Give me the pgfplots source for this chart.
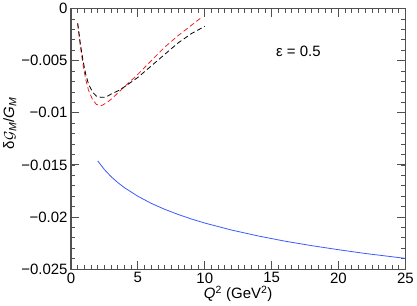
\documentclass[border=0pt]{standalone}
\usepackage{pgfplots}
\pgfplotsset{compat=1.18}
\usepackage{fontspec}
\setmainfont{Liberation Sans}

\definecolor{curveblue}{RGB}{60,90,255}
\definecolor{curvered}{RGB}{240,30,30}
\definecolor{framegray}{RGB}{80,80,80}

\begin{document}
\begin{tikzpicture}
\begin{axis}[
    scale only axis,
    width=335pt, height=261pt,
    xmin=0, xmax=25,
    ymin=-0.025, ymax=0,
    xtick={0,5,10,15,20,25},
    xticklabels={0,5,10,15,20,25},
    ytick={-0.025,-0.02,-0.015,-0.01,-0.005,0},
    yticklabels={−0.025,−0.02,−0.015,−0.01,−0.005,0},
    scaled y ticks=false,
    minor xtick={0,0.5,...,25},
    minor ytick={-0.025,-0.024,...,0},
    xtick align=inside, ytick align=inside,
    xtick pos=both, ytick pos=both,
    major tick length=8pt,
    minor tick length=4pt,
    major tick style={draw=framegray, line width=1pt},
    minor tick style={draw=framegray, line width=0.8pt},
    axis line style={framegray, line width=1.2pt},
    tick label style={font=\fontsize{15}{17}\selectfont},
    label style={font=\fontsize{15}{17}\selectfont},
    xlabel={\textit{Q}\textsuperscript{2} (GeV\textsuperscript{2})},
    ylabel={δ$\mathcal{G}$\textsubscript{\textit{M}}/\textit{G}\textsubscript{\textit{M}}},
    xlabel style={yshift=4pt},
    ylabel style={yshift=-2pt, at={(ticklabel cs:0.56)}},
    clip=false,
]

\addplot[curveblue, line width=0.8pt] coordinates {
(2.0,-0.01462)(2.5,-0.01545)(3.0,-0.01613)(3.5,-0.01670)(4.0,-0.01719)(5.0,-0.01801)
(6.0,-0.01869)(7.0,-0.01926)(8.0,-0.01975)(9.0,-0.02019)(10.0,-0.02058)(12.0,-0.02125)
(14.0,-0.02182)(16.0,-0.02232)(18.0,-0.02275)(20.0,-0.02314)(22.0,-0.02350)(25.0,-0.02397)
};

\addplot[curvered, line width=0.8pt, dash pattern=on 5pt off 3pt] coordinates {
(0.5,-0.0015)(0.7,-0.0036)(0.9,-0.0054)(1.1,-0.0068)(1.3,-0.0078)(1.6,-0.0087)
(1.9,-0.0092)(2.3,-0.0093)(2.7,-0.0090)(3.0,-0.0087)(3.5,-0.0081)(4.0,-0.0075)
(5.0,-0.0063)(6.0,-0.0050)(7.0,-0.0037)(8.0,-0.0026)(9.0,-0.0016)(9.7,-0.0009)
};

\addplot[black, line width=0.8pt, dash pattern=on 5pt off 3pt] coordinates {
(0.5,-0.0014)(0.7,-0.0034)(0.9,-0.0050)(1.1,-0.0063)(1.3,-0.0072)(1.6,-0.0080)
(1.9,-0.0084)(2.2,-0.0085)(2.6,-0.0085)(3.0,-0.0082)(3.5,-0.0079)(4.0,-0.0075)
(5.0,-0.0066)(6.0,-0.0055)(7.0,-0.0044)(8.0,-0.0033)(9.0,-0.0024)(10.0,-0.0017)
};

\node[font=\fontsize{15}{17}\selectfont] at (axis cs:17,-0.0041) {ε = 0.5};

\end{axis}
\end{tikzpicture}
\end{document}
